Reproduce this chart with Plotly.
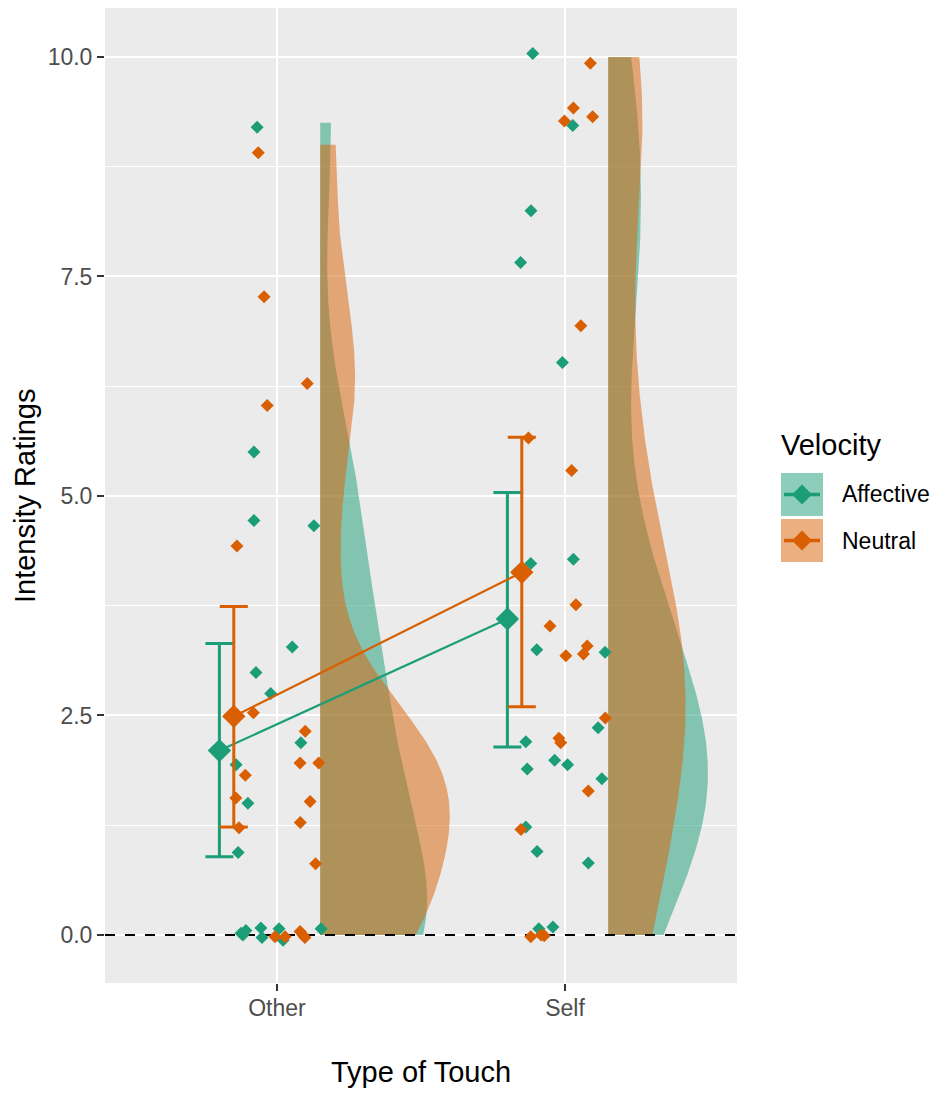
import numpy as np
import plotly.graph_objects as go

categories = ["Other", "Self"]
velocities = ["Affective", "Neutral"]
colors = {"Affective": "#1B9E77", "Neutral": "#D95F02"}
fills = {"Affective": "rgba(27,158,119,0.5)", "Neutral": "rgba(217,95,2,0.5)"}

# ---- individual ratings, small vertical display jitter, horizontal jitter ----
other_aff_rating = [9.25, 5.50, 4.72, 4.66, 3.28, 2.99, 2.75, 2.19, 1.94, 1.50, 0.94,
                    0, 0, 0, 0, 0, 0, 0, 0]
other_aff_yjit = [-0.05, 0, 0, 0, 0, 0, 0, 0, 0, 0, 0,
                  0.02, 0.05, 0.08, -0.03, 0.07, -0.06, 0.07, 0.00]
other_aff_jitter = [-0.069, -0.080, -0.080, 0.128, 0.053, -0.073, -0.022, 0.083, -0.142, -0.101, -0.135,
                    -0.125, -0.108, -0.056, -0.052, 0.007, 0.021, 0.153, -0.118]

other_neu_rating = [9.00, 7.27, 6.03, 6.28, 4.43, 2.53, 2.32, 1.96, 1.96, 1.82, 1.56, 1.52, 1.28, 1.22, 0.81,
                    0, 0, 0, 0, 0]
other_neu_yjit = [-0.09, 0, 0, 0, 0, 0, 0, 0, 0, 0, 0, 0, 0, 0, 0,
                  -0.02, -0.02, 0.04, -0.03, 0.00]
other_neu_jitter = [-0.065, -0.045, -0.034, 0.105, -0.139, -0.082, 0.098, 0.080, 0.145, -0.110, -0.143, 0.115, 0.081, -0.132, 0.134,
                    -0.007, 0.028, 0.080, 0.097, 0.090]

self_aff_rating = [10.0, 9.22, 8.25, 7.66, 6.52, 4.23, 4.28, 3.25, 3.22, 2.36, 2.20, 1.99, 1.94, 1.89, 1.78,
                   1.23, 0.95, 0.82, 0, 0]
self_aff_yjit = [0.04, 0, 0, 0, 0, 0, 0, 0, 0, 0, 0, 0, 0, 0, 0,
                 0, 0, 0, 0.07, 0.09]
self_aff_jitter = [-0.112, 0.027, -0.118, -0.154, -0.009, -0.119, 0.029, -0.098, 0.139, 0.115, -0.136, -0.036, 0.009, -0.131, 0.128,
                   -0.136, -0.097, 0.081, -0.091, -0.042]

self_neu_rating = [10.0, 9.42, 9.32, 9.27, 6.94, 5.66, 5.29, 3.76, 3.52, 3.29, 3.20, 3.18, 2.47, 2.24, 2.19,
                   1.64, 1.20, 0, 0, 0]
self_neu_yjit = [-0.07, 0, 0, 0, 0, 0, 0, 0, 0, 0, 0, 0, 0, 0, 0,
                 0, 0, -0.02, -0.01, 0.00]
self_neu_jitter = [0.088, 0.029, 0.096, -0.002, 0.055, -0.127, 0.023, 0.038, -0.052, 0.077, 0.064, 0.003, 0.140, -0.021, -0.015,
                   0.081, -0.153, -0.119, -0.072, -0.083]

# ---- summary: mean and 95% CI ----
mean_aff = [2.10, 3.60]
lower_aff = [0.89, 2.14]
upper_aff = [3.32, 5.04]
mean_neu = [2.49, 4.13]
lower_neu = [1.23, 2.60]
upper_neu = [3.74, 5.67]

y_ticks = [0, 2.5, 5, 7.5, 10]
y_ticklabels = ["0.0", "2.5", "5.0", "7.5", "10.0"]
y_minor = [1.25, 3.75, 6.25, 8.75]

data = {
    ("Other", "Affective"): (other_aff_rating, other_aff_yjit, other_aff_jitter),
    ("Other", "Neutral"): (other_neu_rating, other_neu_yjit, other_neu_jitter),
    ("Self", "Affective"): (self_aff_rating, self_aff_yjit, self_aff_jitter),
    ("Self", "Neutral"): (self_neu_rating, self_neu_yjit, self_neu_jitter),
}
cat_pos = {c: i + 1 for i, c in enumerate(categories)}


def kde(vals):
    v = np.asarray(vals, float)
    n = len(v)
    sd = v.std(ddof=1)
    q75, q25 = np.percentile(v, [75, 25])
    lo = min(sd, (q75 - q25) / 1.34)
    bw = 0.9 * lo * n ** -0.2
    ys = np.linspace(v.min(), v.max(), 512)
    d = np.exp(-0.5 * ((ys[:, None] - v[None, :]) / bw) ** 2).sum(1) / (n * bw * np.sqrt(2 * np.pi))
    return ys, d


dens = {k: kde(v[0]) for k, v in data.items()}
gmax = max(d.max() for _, d in dens.values())
half_width = 0.45
nudge = 0.15

fig = go.Figure()

# half violins
for (cat, vel), (ys, d) in dens.items():
    x0 = cat_pos[cat] + nudge
    w = d / gmax * half_width
    xs = np.concatenate([x0 + w, [x0, x0]])
    yy = np.concatenate([ys, [ys[-1], ys[0]]])
    fig.add_trace(go.Scatter(x=xs, y=yy, fill="toself", fillcolor=fills[vel], mode="lines",
                             line=dict(width=0), hoverinfo="skip", showlegend=False))

# zero reference line
fig.add_trace(go.Scatter(x=[0.4028, 2.5972], y=[0, 0], mode="lines",
                         line=dict(color="black", width=2, dash="10px,10px"),
                         hoverinfo="skip", showlegend=False))

# jittered points
for (cat, vel), (r, yj, j) in data.items():
    xs = cat_pos[cat] + np.asarray(j)
    ys = np.asarray(r) + np.asarray(yj)
    fig.add_trace(go.Scatter(x=xs, y=ys, mode="markers",
                             marker=dict(symbol="diamond", size=10, color=colors[vel], line=dict(width=0)),
                             showlegend=False))

# means, connecting lines and error bars
xs_base = np.array([cat_pos[c] for c in categories], float)
for vel, m, lo, hi, off in [("Affective", mean_aff, lower_aff, upper_aff, -0.20),
                            ("Neutral", mean_neu, lower_neu, upper_neu, -0.15)]:
    m = np.asarray(m); lo = np.asarray(lo); hi = np.asarray(hi)
    fig.add_trace(go.Scatter(
        x=xs_base + off, y=m, mode="lines+markers",
        line=dict(color=colors[vel], width=2.2),
        marker=dict(symbol="diamond", size=18, color=colors[vel], line=dict(width=0)),
        error_y=dict(type="data", symmetric=False, array=hi - m, arrayminus=m - lo,
                     color=colors[vel], thickness=3, width=14),
        showlegend=False))

# ---- layout ----
L, R, T, B = 105, 737, 8, 983
W, H = 933, 1094


def px(p):
    return (p - L) / (R - L)


def py(p):
    return (B - p) / (B - T)


font_fam = "Arial, Liberation Sans, sans-serif"

shapes = []
annotations = [
    dict(text="Type of Touch", x=px(421), y=py(1072), xref="paper", yref="paper",
         showarrow=False, xanchor="center", yanchor="middle",
         font=dict(size=29, color="black", family=font_fam)),
    dict(text="Intensity Ratings", x=px(25), y=py(496), xref="paper", yref="paper",
         showarrow=False, xanchor="center", yanchor="middle", textangle=-90,
         font=dict(size=29, color="black", family=font_fam)),
    dict(text="Velocity", x=px(779), y=py(445), xref="paper", yref="paper",
         showarrow=False, xanchor="left", yanchor="middle",
         font=dict(size=29, color="black", family=font_fam)),
]
for i, vel in enumerate(velocities):
    top = 473 + i * 46
    bot = top + 43
    cy = (top + bot) / 2
    shapes.append(dict(type="rect", xref="paper", yref="paper",
                       x0=px(781), x1=px(823), y0=py(bot), y1=py(top),
                       fillcolor=fills[vel], line=dict(width=0)))
    shapes.append(dict(type="line", xref="paper", yref="paper",
                       x0=px(784), x1=px(820), y0=py(cy), y1=py(cy),
                       line=dict(color=colors[vel], width=3.5)))
    d = 10
    path = (f"M {px(802 - d)},{py(cy)} L {px(802)},{py(cy - d)} "
            f"L {px(802 + d)},{py(cy)} L {px(802)},{py(cy + d)} Z")
    shapes.append(dict(type="path", xref="paper", yref="paper", path=path,
                       fillcolor=colors[vel], line=dict(width=0)))
    annotations.append(dict(text=vel, x=px(840), y=py(cy), xref="paper", yref="paper",
                            showarrow=False, xanchor="left", yanchor="middle",
                            font=dict(size=23, color="black", family=font_fam)))

fig.update_layout(
    width=W, height=H,
    margin=dict(l=L, r=W - R, t=T, b=H - B, pad=0),
    plot_bgcolor="#EBEBEB", paper_bgcolor="white",
    showlegend=False,
    shapes=shapes, annotations=annotations,
    font=dict(family=font_fam),
    xaxis=dict(range=[0.4028, 2.5972], tickvals=[1, 2], ticktext=categories,
               showgrid=True, gridcolor="white", gridwidth=2.2, zeroline=False,
               ticks="outside", ticklen=7, tickwidth=2, tickcolor="#333333",
               ticklabelstandoff=-3,
               tickfont=dict(size=23, color="#4D4D4D", family=font_fam),
               showline=False, fixedrange=True),
    yaxis=dict(range=[-0.547, 10.558], tickvals=y_ticks, ticktext=y_ticklabels,
               showgrid=True, gridcolor="white", gridwidth=2.2, zeroline=False,
               ticks="outside", ticklen=7, tickwidth=2, tickcolor="#333333",
               tickfont=dict(size=23, color="#4D4D4D", family=font_fam),
               minor=dict(tickvals=y_minor, showgrid=True, gridcolor="white", gridwidth=1.1, ticks=""),
               showline=False, fixedrange=True),
)

fig.write_html("out.html", config={"displayModeBar": False},
               post_script="document.body.style.margin='0px';")
